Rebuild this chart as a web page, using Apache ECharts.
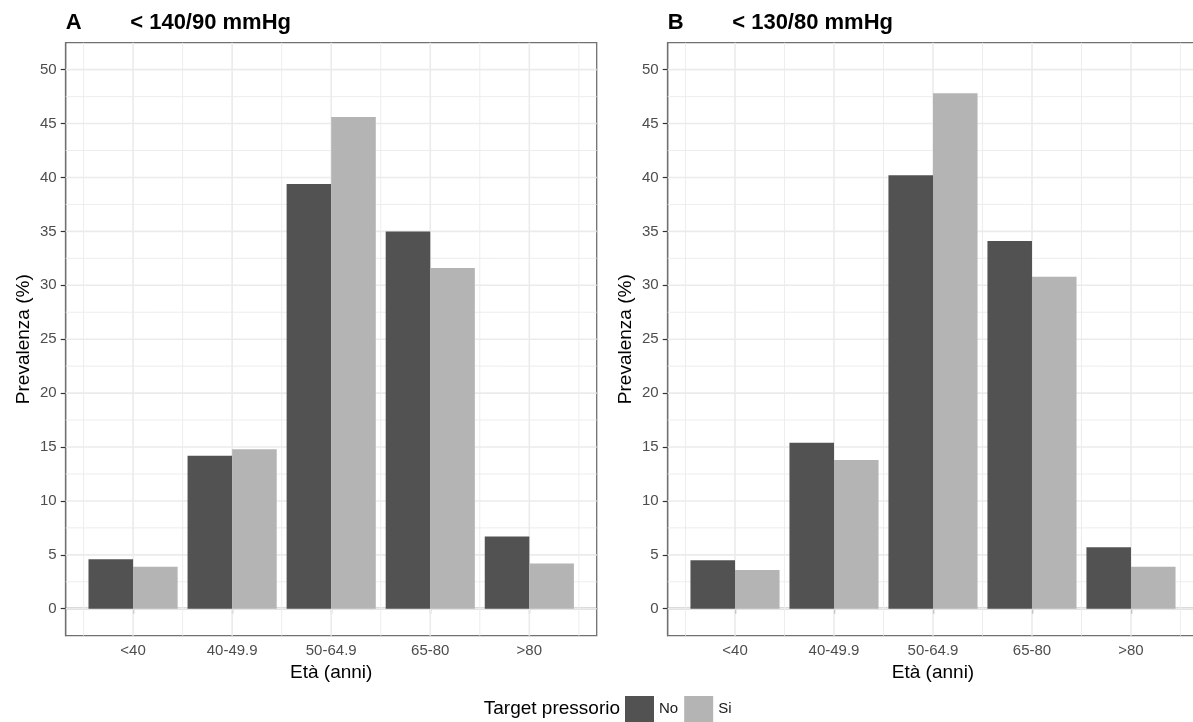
<!DOCTYPE html>
<html>
<head>
<meta charset="utf-8">
<script src="https://cdn.jsdelivr.net/npm/echarts@6/dist/echarts.min.js"></script>
<style>
html,body{margin:0;padding:0;background:#fff;overflow:hidden;}
#chart{width:1210px;height:722px;}
</style>
</head>
<body>
<div id="chart"></div>
<script>
// ---- data ----
const categories = ['<40', '40-49.9', '50-64.9', '65-80', '>80'];
const panelLetters = ['A', 'B'];
const panelTitles = ['< 140/90 mmHg', '< 130/80 mmHg'];
const seriesNames = ['No', 'Si'];
const noA = [4.6, 14.2, 39.4, 35.0, 6.7];
const siA = [3.9, 14.8, 45.6, 31.6, 4.2];
const noB = [4.5, 15.4, 40.2, 34.1, 5.7];
const siB = [3.6, 13.8, 47.8, 30.8, 3.9];
const yTicks = [0, 5, 10, 15, 20, 25, 30, 35, 40, 45, 50];
const xTicks = [1, 2, 3, 4, 5];
const yMin = -2.5, yMax = 52.5;
const xMin = 0.32, xMax = 5.68;
const legendTitle = 'Target pressorio';
const xTitle = 'Età (anni)';
const yTitle = 'Prevalenza (%)';

// ---- styling ----
const FONT = "'Liberation Sans', Arial, sans-serif";
const colors = ['#525252', '#b4b4b4'];
const frames = [
  {left: 65.7, top: 42.7, width: 531, height: 593},
  {left: 667.7, top: 42.7, width: 530.6, height: 593}
];
const halfW = 0.45;

const chart = echarts.init(document.getElementById('chart'), null, {renderer: 'canvas'});

const grids = [], xAxes = [], yAxes = [], series = [];
const panelData = [[noA, siA], [noB, siB]];

// gridline definitions derived from tick values
function gridItems() {
  const items = [];
  xTicks.forEach(t => items.push([0, t, 1]));
  [0].concat(xTicks).forEach(t => items.push([0, t + 0.5, 0]));
  yTicks.forEach(t => items.push([1, t, 1]));
  yTicks.slice(0, -1).forEach(t => items.push([1, t + 2.5, 0]));
  return items;
}

frames.forEach((f, p) => {
  grids.push({left: f.left, top: f.top, width: f.width, height: f.height,
    show: true, borderColor: '#707070', borderWidth: 1.3, backgroundColor: '#fff', containLabel: false});
  xAxes.push({
    gridIndex: p, type: 'value', min: xMin, max: xMax,
    splitLine: {show: false},
    axisLine: {show: true, lineStyle: {color: '#707070', width: 1.3}},
    axisTick: {show: true, customValues: xTicks, length: 5, lineStyle: {color: '#333', width: 1.2}},
    axisLabel: {customValues: xTicks, formatter: v => categories[Math.round(v) - 1] || '',
      fontSize: 15, color: '#4d4d4d', margin: 8, fontFamily: FONT},
    name: xTitle, nameLocation: 'middle', nameGap: 27,
    nameTextStyle: {fontSize: 19, color: '#000', fontFamily: FONT}
  });
  yAxes.push({
    gridIndex: p, type: 'value', min: yMin, max: yMax, interval: 2.5,
    splitLine: {show: false},
    axisLine: {show: true, lineStyle: {color: '#707070', width: 1.3}},
    axisTick: {show: true, customValues: yTicks, length: 5, lineStyle: {color: '#333', width: 1.2}},
    axisLabel: {customValues: yTicks, fontSize: 15, color: '#4d4d4d', margin: 9, fontFamily: FONT},
    name: yTitle, nameLocation: 'middle', nameGap: 32, nameRotate: 90,
    nameTextStyle: {fontSize: 19, color: '#000', fontFamily: FONT}
  });
  series.push({
    type: 'custom', xAxisIndex: p, yAxisIndex: p, z: 1, silent: true,
    data: gridItems(),
    renderItem: function (params, api) {
      const kind = api.value(0), v = api.value(1), major = api.value(2);
      let a, b;
      if (kind === 0) { a = api.coord([v, yMin]); b = api.coord([v, yMax]); }
      else { a = api.coord([xMin, v]); b = api.coord([xMax, v]); }
      return {type: 'line', shape: {x1: a[0], y1: a[1], x2: b[0], y2: b[1]},
        style: {stroke: '#ebebeb', lineWidth: major ? 1.6 : 0.9}};
    }
  });
  panelData[p].forEach((vals, s) => {
    series.push({
      type: 'custom', name: seriesNames[s], xAxisIndex: p, yAxisIndex: p, z: 3,
      itemStyle: {color: colors[s]},
      data: vals.map((v, i) => [xTicks[i], v, s === 0 ? -1 : 1]),
      encode: {x: 0, y: 1},
      renderItem: function (params, api) {
        const c = api.value(0), v = api.value(1), side = api.value(2);
        const l = side < 0 ? c - halfW : c;
        const r = side < 0 ? c : c + halfW;
        const a = api.coord([l, v]);
        const b = api.coord([r, 0]);
        return {type: 'rect', shape: {x: a[0], y: a[1], width: b[0] - a[0], height: b[1] - a[1]},
          style: {fill: api.visual('color')}};
      }
    });
  });
});

const graphics = [];
frames.forEach((f, p) => {
  graphics.push({type: 'text', x: f.left, y: 23,
    style: {text: panelLetters[p], font: 'bold 22px ' + FONT, fill: '#000', align: 'left', verticalAlign: 'middle'}});
  graphics.push({type: 'text', x: f.left + 64.5, y: 23,
    style: {text: panelTitles[p], font: 'bold 22px ' + FONT, fill: '#000', align: 'left', verticalAlign: 'middle'}});
});
graphics.push({type: 'text', x: 620, y: 709,
  style: {text: legendTitle, font: '19px ' + FONT, fill: '#000', align: 'right', verticalAlign: 'middle'}});

chart.setOption({
  animation: false,
  backgroundColor: '#fff',
  textStyle: {fontFamily: FONT},
  grid: grids,
  xAxis: xAxes,
  yAxis: yAxes,
  series: series,
  legend: {
    data: seriesNames, left: 625, top: 696, padding: 0,
    itemWidth: 29, itemHeight: 26, itemGap: 6, icon: 'rect', selectedMode: false,
    textStyle: {fontSize: 15, color: '#1a1a1a', fontFamily: FONT}
  },
  graphic: graphics
});
</script>
</body>
</html>
